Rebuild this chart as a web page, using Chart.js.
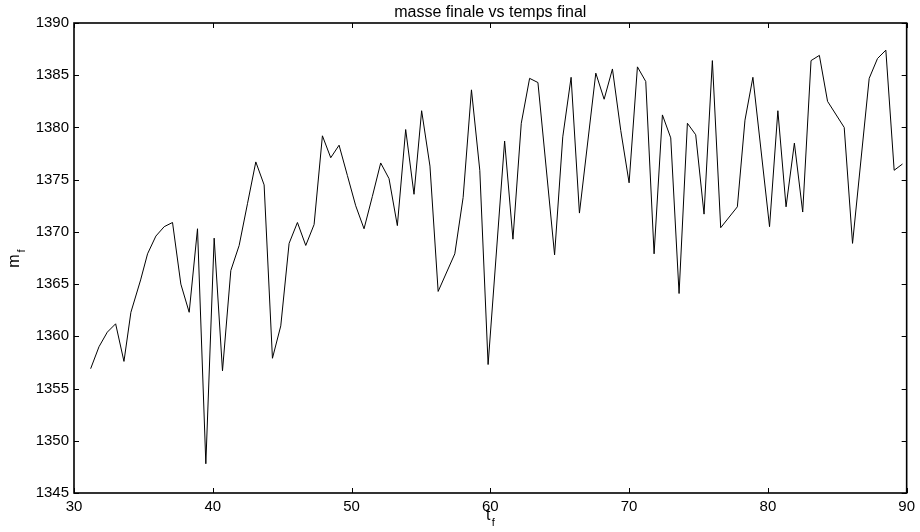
<!DOCTYPE html>
<html>
<head>
<meta charset="utf-8">
<script src="https://cdn.jsdelivr.net/npm/chart.js@4/dist/chart.umd.min.js"></script>
<style>
  html, body { margin: 0; padding: 0; background: #fff; }
  #wrap { width: 920px; height: 532px; }
</style>
</head>
<body>
<div id="wrap"><canvas id="myChart" width="920" height="532"></canvas></div>
<script>
// final time (t_f) and final mass (m_f)
var tVals = [31.2, 31.8, 32.4, 33.0, 33.6, 34.1, 34.8, 35.3, 35.9, 36.5,
             37.1, 37.7, 38.3, 38.9, 39.5, 40.1, 40.7, 41.3, 41.9, 42.5,
             43.1, 43.7, 44.3, 44.9, 45.5, 46.1, 46.7, 47.3, 47.9, 48.5,
             49.1, 49.7, 50.3, 50.9, 51.5, 52.1, 52.7, 53.3, 53.9, 54.5,
             55.05, 55.65, 56.24, 57.44, 58.04, 58.64, 59.24, 59.84, 61.03, 61.63,
             62.23, 62.83, 63.43, 64.63, 65.22, 65.82, 66.42, 67.6, 68.2, 68.8,
             69.4, 70.0, 70.6, 71.2, 71.8, 72.4, 73.0, 73.6, 74.2, 74.8,
             75.4, 76.0, 76.6, 77.8, 78.35, 78.92, 80.12, 80.72, 81.31, 81.91,
             82.51, 83.11, 83.71, 84.3, 85.5, 86.1, 87.3, 87.9, 88.5, 89.1,
             89.7];
var mVals = [1356.9, 1359.0, 1360.4, 1361.2, 1357.6, 1362.3, 1365.4, 1367.9, 1369.6, 1370.5,
             1370.9, 1365.0, 1362.3, 1370.3, 1347.8, 1369.4, 1356.7, 1366.3, 1368.7, 1372.7,
             1376.7, 1374.5, 1357.9, 1361.0, 1368.9, 1370.9, 1368.7, 1370.7, 1379.2, 1377.1,
             1378.3, 1375.4, 1372.5, 1370.3, 1373.4, 1376.6, 1375.1, 1370.6, 1379.8, 1373.6,
             1381.6, 1376.3, 1364.3, 1367.9, 1373.3, 1383.6, 1375.9, 1357.3, 1378.7, 1369.3,
             1380.4, 1384.7, 1384.3, 1367.8, 1379.1, 1384.8, 1371.8, 1385.2, 1382.7, 1385.6,
             1379.7, 1374.7, 1385.8, 1384.4, 1367.9, 1381.2, 1379.0, 1364.1, 1380.4, 1379.3,
             1371.7, 1386.4, 1370.4, 1372.4, 1380.7, 1384.8, 1370.5, 1381.6, 1372.4, 1378.5,
             1371.9, 1386.4, 1386.9, 1382.5, 1380.0, 1368.9, 1384.7, 1386.6, 1387.4, 1375.9,
             1376.5];

var xTicks = [30, 40, 50, 60, 70, 80, 90];
var yTicks = [1345, 1350, 1355, 1360, 1365, 1370, 1375, 1380, 1385, 1390];

var titleText = 'masse finale vs temps final';
var fontFam = '"Liberation Sans", Arial, Helvetica, sans-serif';

let points = [];
for (let i = 0; i < tVals.length; i++) {
  points.push({ x: tVals[i], y: mVals[i] });
}

// box around the plot, inward ticks on all four sides, title and axis labels
const matlabAxes = {
  id: 'matlabAxes',
  afterDraw(chart) {
    const ctx = chart.ctx;
    const a = chart.chartArea;
    const xs = chart.scales.x, ys = chart.scales.y;
    ctx.save();
    ctx.strokeStyle = '#000';
    ctx.lineWidth = 1.6;
    ctx.strokeRect(a.left, a.top, a.right - a.left, a.bottom - a.top);
    ctx.lineWidth = 1;
    ctx.beginPath();
    for (let v of xTicks) {
      let px = Math.round(xs.getPixelForValue(v)) + 0.5;
      ctx.moveTo(px, a.bottom); ctx.lineTo(px, a.bottom - 5);
      ctx.moveTo(px, a.top);    ctx.lineTo(px, a.top + 5);
    }
    for (let v of yTicks) {
      let py = Math.round(ys.getPixelForValue(v)) + 0.5;
      ctx.moveTo(a.left, py);  ctx.lineTo(a.left + 5, py);
      ctx.moveTo(a.right, py); ctx.lineTo(a.right - 5, py);
    }
    ctx.stroke();

    ctx.fillStyle = '#000';
    let cx = (a.left + a.right) / 2;
    ctx.font = '16px ' + fontFam;
    ctx.textAlign = 'center';
    ctx.textBaseline = 'middle';
    ctx.fillText(titleText, cx, 13);

    // x label t_f
    ctx.font = '16px ' + fontFam;
    ctx.fillText('t', cx - 2, 516);
    ctx.font = '11px ' + fontFam;
    ctx.fillText('f', cx + 3, 523);

    // y label m_f (rotated)
    ctx.translate(15, (a.top + a.bottom) / 2);
    ctx.rotate(-Math.PI / 2);
    ctx.font = '16px ' + fontFam;
    ctx.fillText('m', -3, 0);
    ctx.font = '11px ' + fontFam;
    ctx.fillText('f', 7, 7);
    ctx.restore();
  }
};

let options = {
  type: 'scatter',
  data: {
    datasets: [{
      data: points,
      showLine: true,
      fill: false,
      borderColor: '#000',
      borderWidth: 1,
      pointRadius: 0,
      pointHoverRadius: 0,
      tension: 0
    }]
  },
  options: {
    responsive: false,
    animation: false,
    layout: { padding: { top: 23, right: 11, left: 0, bottom: 0 } },
    plugins: {
      legend: { display: false },
      tooltip: { enabled: false },
      title: { display: false }
    },
    scales: {
      x: {
        type: 'linear',
        min: 30, max: 90,
        afterBuildTicks: function(s) { s.ticks = xTicks.map(v => ({ value: v })); },
        afterFit: function(s) { s.height = 39; },
        grid: { display: false, drawTicks: false },
        border: { display: false },
        ticks: { color: '#000', padding: 5, maxRotation: 0,
                 callback: function(v) { return String(v); },
                 font: { size: 15, family: fontFam } }
      },
      y: {
        type: 'linear',
        min: 1345, max: 1390,
        afterBuildTicks: function(s) { s.ticks = yTicks.map(v => ({ value: v })); },
        afterFit: function(s) { s.width = 74; },
        grid: { display: false, drawTicks: false },
        border: { display: false },
        ticks: { color: '#000', padding: 5,
                 callback: function(v) { return String(v); },
                 font: { size: 15, family: fontFam } }
      }
    }
  },
  plugins: [matlabAxes]
};

let mChart = new Chart(document.getElementById('myChart'), options);
</script>
</body>
</html>
